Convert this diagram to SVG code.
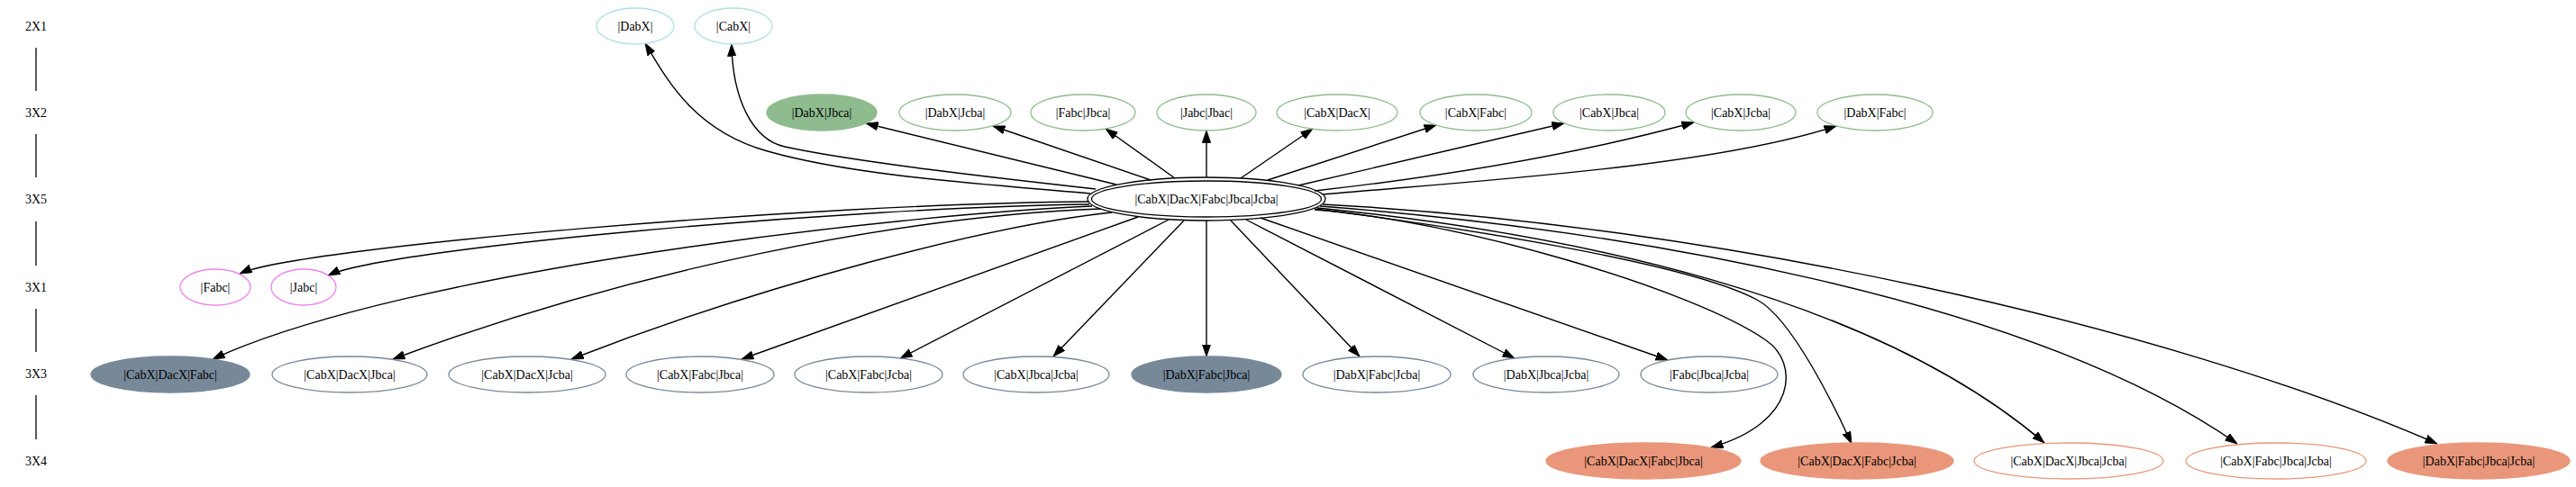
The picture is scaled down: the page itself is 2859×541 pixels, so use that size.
<svg xmlns="http://www.w3.org/2000/svg" width="2859" height="541" viewBox="0 0 2859 541">
<style>
text{font-family:"Liberation Serif","Times New Roman",serif;font-size:14px;text-anchor:middle;fill:#000}
ellipse{stroke-width:1.3}
.c1{fill:none;stroke:#b0e0e6}
.g{fill:none;stroke:#8fbc8f}
.gf{fill:#8fbc8f;stroke:#8fbc8f}
.v{fill:none;stroke:#ee82ee}
.s{fill:none;stroke:#778899}
.sf{fill:#778899;stroke:#778899}
.o{fill:none;stroke:#e9967a}
.of{fill:#e9967a;stroke:#e9967a}
.ctr{fill:none;stroke:#000}
.e{fill:none;stroke:#000;stroke-width:1.4;marker-end:url(#arr)}
.rk{fill:none;stroke:#000;stroke-width:1.3}
</style>
<defs>
<marker id="arr" markerUnits="userSpaceOnUse" viewBox="0 0 14 10" refX="13.5" refY="5" markerWidth="14" markerHeight="10" orient="auto">
<path d="M0,0.3 L13.5,5 L0,9.7 z" fill="#000" stroke="#000" stroke-width="0.8"/>
</marker>
</defs>
<rect width="2859" height="541" fill="#fff"/>
<g id="ranks">
<g id="r2X1"><text x="40" y="33.5">2X1</text></g>
<g id="r3X2"><text x="40" y="129.5">3X2</text></g>
<g id="r3X5"><text x="40" y="225.5">3X5</text></g>
<g id="r3X1"><text x="40" y="323.5">3X1</text></g>
<g id="r3X3"><text x="40" y="420">3X3</text></g>
<g id="r3X4"><text x="40" y="516.5">3X4</text></g>
</g>
<g id="connectors">
<path class="rk" d="M40,53 V101 M40,149 V197 M40,246 V295 M40,343 V391 M40,439 V488"/>
<path class="e" d="M1210,215 C1100,205 950,196 852,168 C770,145 740,88 716,48"/>
<path class="e" d="M1216,210 C1100,197 950,180 871,163 C835,155 813,110 812,49"/>
<path class="e" d="M1239,205 L961,137"/>
<path class="e" d="M1277,200 L1102,140"/>
<path class="e" d="M1304,198 L1227,143"/>
<path class="e" d="M1339,197 L1339,145"/>
<path class="e" d="M1377,198 L1457,143"/>
<path class="e" d="M1407,200 L1594,139"/>
<path class="e" d="M1441,206 L1736,137"/>
<path class="e" d="M1459,212 Q1700,185 1880,136"/>
<path class="e" d="M1468,216 C1650,200 1900,185 2038,140"/>
<path class="e" d="M1208,224 C900,226 330,275 266,304"/>
<path class="e" d="M1209,227 C950,230 430,275 364,306"/>
<path class="e" d="M1212,229 C1000,238 450,300 236,399"/>
<path class="e" d="M1222,232 C1000,240 700,300 436,399"/>
<path class="e" d="M1234,236 C1100,250 850,315 634,399"/>
<path class="e" d="M1263,241 L823,399"/>
<path class="e" d="M1297,244 L999,398"/>
<path class="e" d="M1314,245 L1169,396"/>
<path class="e" d="M1339,245 L1339,396"/>
<path class="e" d="M1366,245 L1509,396"/>
<path class="e" d="M1383,244 L1681,398"/>
<path class="e" d="M1399,242 L1851,400"/>
<path class="e" d="M1459,233 C1620,245 1880,322 1960,378 C1997,403 1995,470 1899,497"/>
<path class="e" d="M1459,232 C1600,250 1870,290 1950,333 C1990,354 2040,460 2055,493"/>
<path class="e" d="M1462,231 C1750,260 2080,330 2269,492"/>
<path class="e" d="M1465,229 C1800,255 2250,330 2483,493"/>
<path class="e" d="M1468,227 C1900,250 2400,360 2705,493"/>
</g>
<g id="n_center"><ellipse class="ctr" cx="1339" cy="221" rx="132" ry="24"/><ellipse class="ctr" cx="1339" cy="221" rx="127.5" ry="20"/><text x="1339" y="225.5">|CabX|DacX|Fabc|Jbca|Jcba|</text></g>
<g id="n_DabX"><ellipse class="c1" cx="705" cy="29" rx="43" ry="20"/><text x="705" y="33.5">|DabX|</text></g>
<g id="n_CabX"><ellipse class="c1" cx="814" cy="29" rx="43" ry="20"/><text x="814" y="33.5">|CabX|</text></g>
<g id="n_DabX_Jbca"><ellipse class="gf" cx="912" cy="125" rx="61" ry="20"/><text x="912" y="129.5">|DabX|Jbca|</text></g>
<g id="n_DabX_Jcba"><ellipse class="g" cx="1060" cy="125" rx="62" ry="20"/><text x="1060" y="129.5">|DabX|Jcba|</text></g>
<g id="n_Fabc_Jbca"><ellipse class="g" cx="1202" cy="125" rx="58" ry="20"/><text x="1202" y="129.5">|Fabc|Jbca|</text></g>
<g id="n_Jabc_Jbac"><ellipse class="g" cx="1339" cy="125" rx="55" ry="20"/><text x="1339" y="129.5">|Jabc|Jbac|</text></g>
<g id="n_CabX_DacX"><ellipse class="g" cx="1484" cy="125" rx="67" ry="20"/><text x="1484" y="129.5">|CabX|DacX|</text></g>
<g id="n_CabX_Fabc"><ellipse class="g" cx="1638" cy="125" rx="62" ry="20"/><text x="1638" y="129.5">|CabX|Fabc|</text></g>
<g id="n_CabX_Jbca"><ellipse class="g" cx="1786" cy="125" rx="62" ry="20"/><text x="1786" y="129.5">|CabX|Jbca|</text></g>
<g id="n_CabX_Jcba"><ellipse class="g" cx="1932" cy="125" rx="61" ry="20"/><text x="1932" y="129.5">|CabX|Jcba|</text></g>
<g id="n_DabX_Fabc"><ellipse class="g" cx="2081" cy="125" rx="64" ry="20"/><text x="2081" y="129.5">|DabX|Fabc|</text></g>
<g id="n_Fabc"><ellipse class="v" cx="239" cy="319" rx="39" ry="20"/><text x="239" y="323.5">|Fabc|</text></g>
<g id="n_Jabc"><ellipse class="v" cx="337" cy="319" rx="36" ry="20"/><text x="337" y="323.5">|Jabc|</text></g>
<g id="n_CabX_DacX_Fabc"><ellipse class="sf" cx="189" cy="416" rx="88" ry="20"/><text x="189" y="420.5">|CabX|DacX|Fabc|</text></g>
<g id="n_CabX_DacX_Jbca"><ellipse class="s" cx="388" cy="416" rx="86" ry="20"/><text x="388" y="420.5">|CabX|DacX|Jbca|</text></g>
<g id="n_CabX_DacX_Jcba"><ellipse class="s" cx="585" cy="416" rx="87" ry="20"/><text x="585" y="420.5">|CabX|DacX|Jcba|</text></g>
<g id="n_CabX_Fabc_Jbca"><ellipse class="s" cx="777" cy="416" rx="82" ry="20"/><text x="777" y="420.5">|CabX|Fabc|Jbca|</text></g>
<g id="n_CabX_Fabc_Jcba"><ellipse class="s" cx="964" cy="416" rx="82" ry="20"/><text x="964" y="420.5">|CabX|Fabc|Jcba|</text></g>
<g id="n_CabX_Jbca_Jcba"><ellipse class="s" cx="1150" cy="416" rx="81" ry="20"/><text x="1150" y="420.5">|CabX|Jbca|Jcba|</text></g>
<g id="n_DabX_Fabc_Jbca"><ellipse class="sf" cx="1339" cy="416" rx="83" ry="20"/><text x="1339" y="420.5">|DabX|Fabc|Jbca|</text></g>
<g id="n_DabX_Fabc_Jcba"><ellipse class="s" cx="1528" cy="416" rx="82" ry="20"/><text x="1528" y="420.5">|DabX|Fabc|Jcba|</text></g>
<g id="n_DabX_Jbca_Jcba"><ellipse class="s" cx="1716" cy="416" rx="81" ry="20"/><text x="1716" y="420.5">|DabX|Jbca|Jcba|</text></g>
<g id="n_Fabc_Jbca_Jcba"><ellipse class="s" cx="1897" cy="416" rx="76" ry="20"/><text x="1897" y="420.5">|Fabc|Jbca|Jcba|</text></g>
<g id="n_CabX_DacX_Fabc_Jbca"><ellipse class="of" cx="1824" cy="512" rx="108" ry="20"/><text x="1824" y="516.5">|CabX|DacX|Fabc|Jbca|</text></g>
<g id="n_CabX_DacX_Fabc_Jcba"><ellipse class="of" cx="2061" cy="512" rx="107" ry="20"/><text x="2061" y="516.5">|CabX|DacX|Fabc|Jcba|</text></g>
<g id="n_CabX_DacX_Jbca_Jcba"><ellipse class="o" cx="2296" cy="512" rx="105" ry="20"/><text x="2296" y="516.5">|CabX|DacX|Jbca|Jcba|</text></g>
<g id="n_CabX_Fabc_Jbca_Jcba"><ellipse class="o" cx="2526" cy="512" rx="100" ry="20"/><text x="2526" y="516.5">|CabX|Fabc|Jbca|Jcba|</text></g>
<g id="n_DabX_Fabc_Jbca_Jcba"><ellipse class="of" cx="2751" cy="512" rx="101" ry="20"/><text x="2751" y="516.5">|DabX|Fabc|Jbca|Jcba|</text></g>
</svg>
